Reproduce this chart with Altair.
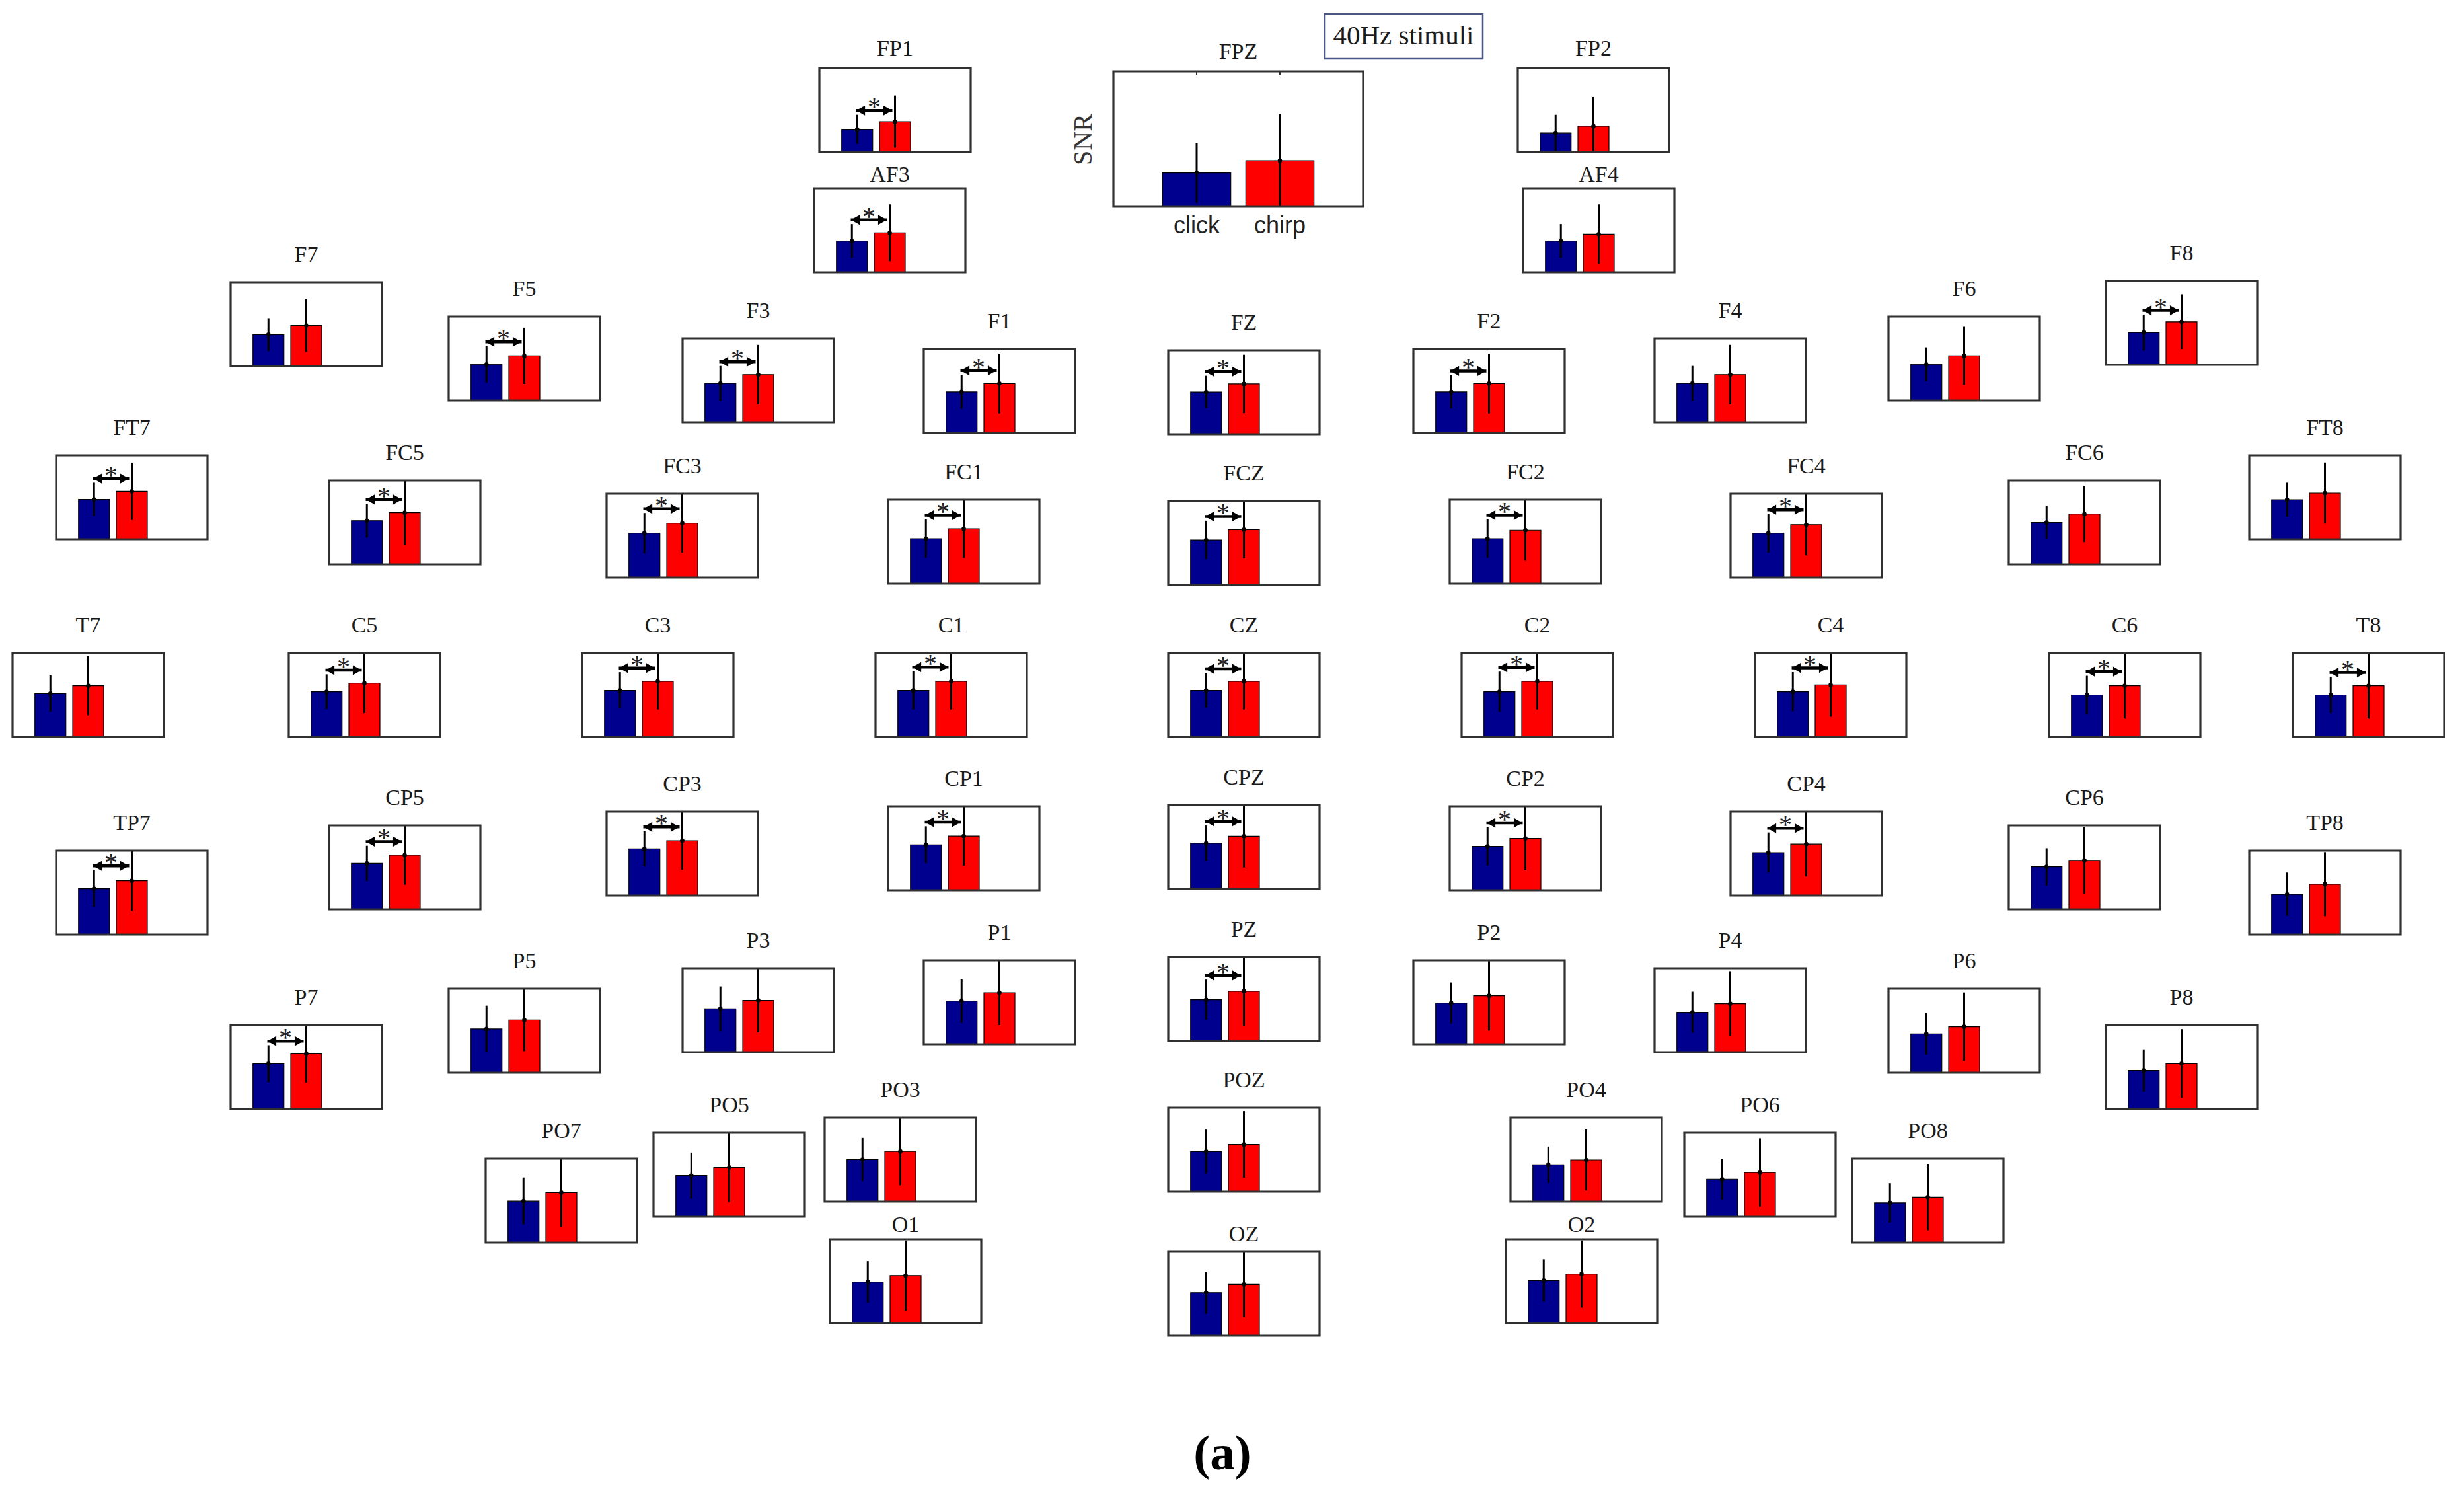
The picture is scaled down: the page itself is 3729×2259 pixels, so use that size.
import altair as alt
import pandas as pd

# ---------------- data (SNR; box top = 10) ----------------
electrodes = ["FP1", "FPZ", "FP2", "AF3", "AF4",
              "F7", "F5", "F3", "F1", "FZ", "F2", "F4", "F6", "F8",
              "FT7", "FC5", "FC3", "FC1", "FCZ", "FC2", "FC4", "FC6", "FT8",
              "T7", "C5", "C3", "C1", "CZ", "C2", "C4", "C6", "T8",
              "TP7", "CP5", "CP3", "CP1", "CPZ", "CP2", "CP4", "CP6", "TP8",
              "P7", "P5", "P3", "P1", "PZ", "P2", "P4", "P6", "P8",
              "PO7", "PO5", "PO3", "POZ", "PO4", "PO6", "PO8",
              "O1", "OZ", "O2"]

click_snr = [2.70, 2.47, 2.27, 3.72, 3.72,
             3.75, 4.31, 4.64, 4.89, 5.03, 4.89, 4.64, 4.31, 3.85,
             4.76, 5.21, 5.30, 5.35, 5.35, 5.35, 5.30, 5.00, 4.71,
             5.16, 5.38, 5.54, 5.54, 5.54, 5.38, 5.38, 5.00, 5.00,
             5.47, 5.48, 5.56, 5.41, 5.45, 5.23, 5.11, 5.07, 4.80,
             5.40, 5.20, 5.16, 5.14, 4.91, 4.91, 4.76, 4.62, 4.59,
             4.95, 4.91, 5.00, 4.78, 4.38, 4.47, 4.73,
             4.91, 5.13, 5.09]
click_err = [1.74, 2.20, 2.16, 2.02, 2.02,
             1.96, 2.18, 2.08, 2.03, 1.93, 1.98, 2.08, 2.02, 2.14,
             1.98, 2.02, 2.40, 2.30, 2.30, 2.30, 2.30, 1.97, 2.03,
             2.17, 2.07, 2.17, 2.28, 2.07, 2.40, 2.34, 2.28, 2.17,
             2.20, 2.10, 2.10, 2.20, 2.10, 2.30, 2.40, 2.22, 2.58,
             2.20, 2.78, 2.67, 2.59, 2.40, 2.45, 2.44, 2.47, 2.52,
             2.79, 2.74, 2.57, 2.61, 2.17, 2.43, 2.34,
             2.48, 2.50, 2.52]
chirp_snr = [3.62, 3.38, 3.08, 4.70, 4.54,
             4.84, 5.32, 5.68, 5.88, 5.99, 5.88, 5.68, 5.32, 5.13,
             5.72, 6.17, 6.49, 6.52, 6.58, 6.36, 6.32, 6.01, 5.51,
             6.09, 6.41, 6.63, 6.63, 6.63, 6.63, 6.20, 6.09, 6.09,
             6.40, 6.47, 6.53, 6.45, 6.27, 6.18, 6.13, 5.84, 6.00,
             6.58, 6.28, 6.18, 6.14, 5.91, 5.77, 5.78, 5.47, 5.41,
             5.95, 5.88, 5.97, 5.62, 4.96, 5.27, 5.41,
             5.68, 6.12, 5.86]
chirp_err = [3.10, 3.48, 3.46, 3.39, 3.55,
             3.15, 3.35, 3.55, 3.57, 3.48, 3.57, 3.55, 3.46, 3.26,
             3.42, 3.83, 3.51, 3.48, 3.42, 3.64, 3.68, 3.35, 3.64,
             3.53, 3.59, 3.37, 3.37, 3.37, 3.37, 3.80, 3.91, 3.91,
             3.60, 3.53, 3.47, 3.55, 3.73, 3.82, 3.87, 3.94, 3.82,
             3.42, 3.72, 3.82, 3.86, 4.09, 4.14, 3.87, 4.08, 4.10,
             4.05, 4.12, 4.03, 3.98, 3.63, 4.07, 3.96,
             4.19, 3.88, 4.01]
significant = ["FP1", "AF3", "F5", "F3", "F1", "FZ", "F2", "F8",
               "FT7", "FC5", "FC3", "FC1", "FCZ", "FC2", "FC4",
               "C5", "C3", "C1", "CZ", "C2", "C4", "C6", "T8",
               "TP7", "CP5", "CP3", "CP1", "CPZ", "CP2", "CP4",
               "P7", "PZ"]
conditions = ["click", "chirp"]

# ---------------- layout (page pixels: box left, box top, title gap) ----------------
layout = {
    "FP1": (1240, 103, 29), "FPZ": (1685, 108, 29), "FP2": (2297, 103, 29),
    "AF3": (1232, 285, 20), "AF4": (2305, 285, 20),
    "F7": (349, 427, 41), "F5": (679, 479, 41), "F3": (1033, 512, 41),
    "F1": (1398, 528, 41), "FZ": (1768, 530, 41), "F2": (2139, 528, 41),
    "F4": (2504, 512, 41), "F6": (2858, 479, 41), "F8": (3187, 425, 41),
    "FT7": (85, 689, 41), "FC5": (498, 727, 41), "FC3": (918, 747, 41),
    "FC1": (1344, 756, 41), "FCZ": (1768, 758, 41), "FC2": (2194, 756, 41),
    "FC4": (2619, 747, 41), "FC6": (3040, 727, 41), "FT8": (3404, 689, 41),
    "T7": (19, 988, 41), "C5": (437, 988, 41), "C3": (881, 988, 41),
    "C1": (1325, 988, 41), "CZ": (1768, 988, 41), "C2": (2212, 988, 41),
    "C4": (2656, 988, 41), "C6": (3101, 988, 41), "T8": (3470, 988, 41),
    "TP7": (85, 1287, 41), "CP5": (498, 1249, 41), "CP3": (918, 1228, 41),
    "CP1": (1344, 1220, 41), "CPZ": (1768, 1218, 41), "CP2": (2194, 1220, 41),
    "CP4": (2619, 1228, 41), "CP6": (3040, 1249, 41), "TP8": (3404, 1287, 41),
    "P7": (349, 1551, 41), "P5": (679, 1496, 41), "P3": (1033, 1465, 41),
    "P1": (1398, 1453, 41), "PZ": (1768, 1448, 41), "P2": (2139, 1453, 41),
    "P4": (2504, 1465, 41), "P6": (2858, 1496, 41), "P8": (3187, 1551, 41),
    "PO7": (735, 1753, 41), "PO5": (989, 1714, 41), "PO3": (1248, 1691, 41),
    "POZ": (1768, 1676, 41), "PO4": (2286, 1691, 41), "PO6": (2549, 1714, 41),
    "PO8": (2803, 1753, 41),
    "O1": (1256, 1875, 21), "OZ": (1768, 1894, 26), "O2": (2279, 1875, 21),
}
BOX = (229, 127)
BIG_BOX = (378, 204)
big_panels = ["FPZ"]

PAGE_W, PAGE_H = 3729, 2259
M = 8
VIEW_W, VIEW_H = PAGE_W - 2 * M, PAGE_H - 2 * M
YMAX = 10.0
NAVY = "#00008f"
RED = "#ff0000"
SERIF = "Liberation Serif"
SANS = "Liberation Sans"
BOXCOL = "#303030"

cscale = alt.Scale(domain=conditions, range=[NAVY, RED])


def panel(i):
    name = electrodes[i]
    left, top, gap = layout[name]
    big = name in big_panels
    w, h = BIG_BOX if big else BOX
    xmax = 3.0 if big else 4.0
    xs = alt.Scale(domain=[0, xmax], range=[left - M, left + w - M], nice=False, zero=False)
    ys = alt.Scale(domain=[0, YMAX], range=[top + h - M, top - M], nice=False, zero=False)

    def X(f):
        return alt.X(f, type="quantitative", scale=xs, axis=None)

    def Y(f):
        return alt.Y(f, type="quantitative", scale=ys, axis=None)

    def XD(v):
        return alt.XDatum(v, type="quantitative", scale=xs, axis=None)

    def YD(v):
        return alt.YDatum(v, type="quantitative", scale=ys, axis=None)

    df = pd.DataFrame({
        "cond": conditions,
        "pos": [1, 2],
        "snr": [click_snr[i], chirp_snr[i]],
        "err": [click_err[i], chirp_err[i]],
    })
    base = alt.Chart(df).transform_calculate(
        x0="datum.pos - 0.41",
        x1="datum.pos + 0.41",
        zero="0",
        lo="max(0, datum.snr - datum.err)",
        hi=f"min({YMAX}, datum.snr + datum.err)",
        ttop=f"{YMAX}",
        tbot=f"{YMAX} - 0.25",
    )
    bars = base.mark_rect(stroke="black", strokeWidth=1.2).encode(
        x=X("x0"), x2="x1", y=Y("zero"), y2="snr",
        color=alt.Color("cond:N", scale=cscale, legend=None),
    )
    errs = base.mark_rule(color="black", strokeWidth=3).encode(x=X("pos"), y=Y("lo"), y2="hi")
    dots = base.mark_point(filled=True, color="black", size=45, opacity=1).encode(
        x=X("pos"), y=Y("snr"))
    layers = [bars, errs, dots]

    one = alt.Chart(pd.DataFrame({"label": [name]}))
    if name in significant:
        ay = min(click_snr[i] + click_err[i] + 0.5, 8.6)
        layers.append(one.mark_rule(color="black", strokeWidth=4.5).encode(
            x=XD(0.97), x2=alt.X2Datum(1.93), y=YD(ay)))
        layers.append(one.mark_point(shape="triangle-left", filled=True, size=230,
                                     color="black", opacity=1, xOffset=7).encode(
            x=XD(0.97), y=YD(ay)))
        layers.append(one.mark_point(shape="triangle-right", filled=True, size=230,
                                     color="black", opacity=1, xOffset=-7).encode(
            x=XD(1.93), y=YD(ay)))
        layers.append(one.mark_text(text="*", font=SERIF, fontSize=40, color="#222222",
                                    baseline="alphabetic", dy=8).encode(
            x=XD(1.45), y=YD(ay)))
    if big:
        layers.append(base.mark_rule(color=BOXCOL, strokeWidth=2).encode(
            x=X("pos"), y=Y("tbot"), y2="ttop"))
        layers.append(base.mark_text(font=SANS, fontSize=36, dy=30, baseline="middle",
                                     color="#222222").encode(
            x=X("pos"), y=YD(0), text="cond:N"))

    box = one.mark_rect(fillOpacity=0, stroke=BOXCOL, strokeWidth=3.2).encode(
        x=XD(0), x2=alt.X2Datum(xmax), y=YD(0), y2=alt.Y2Datum(YMAX))
    title = one.mark_text(font=SERIF, fontSize=34, dy=-gap, baseline="middle",
                          color="#1a1a1a").encode(
        x=XD(xmax / 2), y=YD(YMAX), text="label:N")
    layers += [box, title]
    return alt.layer(*layers)


# ---------------- page-level annotations ----------------
px = alt.Scale(domain=[0, PAGE_W], range=[-M, PAGE_W - M], nice=False, zero=False)
py = alt.Scale(domain=[0, PAGE_H], range=[-M, PAGE_H - M], nice=False, zero=False)


def PXD(v):
    return alt.XDatum(v, type="quantitative", scale=px, axis=None)


def PYD(v):
    return alt.YDatum(v, type="quantitative", scale=py, axis=None)


dummy = alt.Chart(pd.DataFrame({"k": [0]}))
page = alt.layer(
    dummy.mark_rect(fillOpacity=0, stroke="#4a5684", strokeWidth=2.5).encode(
        x=PXD(2005), x2=alt.X2Datum(2244), y=PYD(21), y2=alt.Y2Datum(89)),
    dummy.mark_text(text="40Hz stimuli", font=SERIF, fontSize=41, color="#1a1a1a",
                    baseline="middle").encode(x=PXD(2124), y=PYD(55)),
    dummy.mark_text(text="SNR", font=SERIF, fontSize=40, angle=270, color="#333333",
                    baseline="middle").encode(x=PXD(1640), y=PYD(211)),
    dummy.mark_text(text="(a)", font=SERIF, fontSize=75, fontWeight="bold", color="black",
                    baseline="middle").encode(x=PXD(1850), y=PYD(2200)),
)

panels = [panel(i) for i in range(len(electrodes))]

chart = alt.layer(page, *panels).resolve_scale(
    x="independent", y="independent"
).properties(
    width=VIEW_W, height=VIEW_H, padding=0,
    autosize=alt.AutoSizeParams(type="none"),
    background="white",
).configure_view(stroke=None)

chart.save("out.html", embed_options={"renderer": "svg", "actions": False})
